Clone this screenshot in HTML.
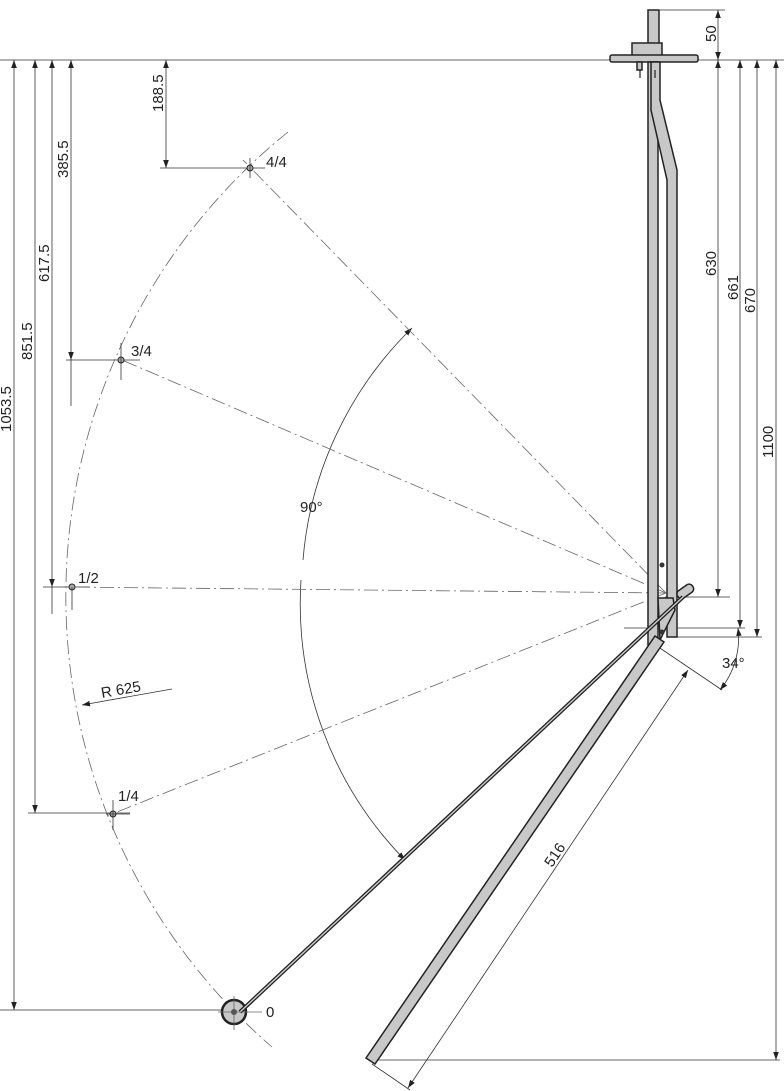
<!DOCTYPE html>
<html><head><meta charset="utf-8"><style>
html,body{margin:0;padding:0;background:#fff;}
svg{display:block;}
text{font-family:"Liberation Sans",sans-serif;font-size:15px;fill:#222;}
</style></head><body>
<svg width="784" height="1091" viewBox="0 0 784 1091" xmlns="http://www.w3.org/2000/svg">
<defs>
<marker id="a" viewBox="0 0 10 10" refX="10" refY="5" markerWidth="8" markerHeight="8" orient="auto-start-reverse" markerUnits="userSpaceOnUse"><path d="M0,1.5 L10,5 L0,8.5 z" fill="#222"/></marker>
</defs>
<g stroke="#333" stroke-width="0.8" fill="none">
<line x1="0" y1="60" x2="784" y2="60"/>
<line x1="14" y1="60" x2="14" y2="1010" marker-start="url(#a)" marker-end="url(#a)"/>
<line x1="0" y1="1010" x2="240" y2="1010"/>
<line x1="35" y1="60" x2="35" y2="813" marker-start="url(#a)" marker-end="url(#a)"/>
<line x1="28" y1="813" x2="130" y2="813"/>
<line x1="52" y1="60" x2="52" y2="587" marker-start="url(#a)" marker-end="url(#a)"/>
<line x1="52" y1="587" x2="52" y2="614"/>
<line x1="43" y1="587" x2="90" y2="587"/>
<line x1="71" y1="60" x2="71" y2="360" marker-start="url(#a)" marker-end="url(#a)"/>
<line x1="71" y1="360" x2="71" y2="406"/>
<line x1="66" y1="360" x2="140" y2="360"/>
<line x1="166" y1="60" x2="166" y2="168" marker-start="url(#a)" marker-end="url(#a)"/>
<line x1="160" y1="168" x2="265" y2="168"/>
<line x1="660" y1="10" x2="725" y2="10"/>
<line x1="718" y1="10" x2="718" y2="60" marker-start="url(#a)" marker-end="url(#a)"/>
<line x1="718" y1="60" x2="718" y2="597" marker-start="url(#a)" marker-end="url(#a)"/>
<line x1="665" y1="597" x2="730" y2="597"/>
<line x1="740" y1="60" x2="740" y2="628" marker-start="url(#a)" marker-end="url(#a)"/>
<line x1="624" y1="628" x2="745" y2="628"/>
<line x1="757" y1="60" x2="757" y2="637" marker-start="url(#a)" marker-end="url(#a)"/>
<line x1="670" y1="637" x2="762" y2="637"/>
<line x1="776" y1="60" x2="776" y2="1060" marker-start="url(#a)" marker-end="url(#a)"/>
<line x1="372" y1="1060" x2="780" y2="1060"/>
<line x1="648" y1="640" x2="722" y2="690"/>
<line x1="372" y1="1064" x2="410" y2="1090"/>
<line x1="688" y1="670" x2="408" y2="1088" marker-start="url(#a)" marker-end="url(#a)"/>
<path d="M738,628 A82,82 0 0 1 720,690" marker-start="url(#a)" marker-end="url(#a)"/>
<path d="M303,560 A366,366 0 0 1 412,328" marker-end="url(#a)"/>
<path d="M301,580 A366,366 0 0 0 405,860" marker-end="url(#a)"/>
<line x1="172" y1="689" x2="82" y2="705" marker-end="url(#a)"/>
</g>
<g stroke="#666" stroke-width="0.8" fill="none" stroke-dasharray="14,4,2,4">
<path d="M288,132 A596,596 0 0 0 272,1047"/>
<line x1="666" y1="593" x2="243" y2="160"/>
<line x1="666" y1="593" x2="115" y2="357"/>
<line x1="666" y1="593" x2="65" y2="587"/>
<line x1="666" y1="593" x2="107" y2="816"/>
<line x1="655" y1="10" x2="655" y2="45"/>
</g>
<g stroke="#222" stroke-width="1" fill="#aaa">
<circle cx="250" cy="168" r="3"/><circle cx="121" cy="360" r="3"/><circle cx="72" cy="587" r="3"/><circle cx="113" cy="814" r="3"/>
</g>
<g stroke="#333" stroke-width="0.8">
<line x1="250" y1="158" x2="250" y2="178"/><line x1="121" y1="343" x2="121" y2="380"/><line x1="72" y1="587" x2="72" y2="610"/><line x1="113" y1="800" x2="113" y2="830"/>
<line x1="106" y1="814" x2="130" y2="814"/>
</g>
<g stroke="#222" stroke-width="1.5" fill="#c8c8c8">
<rect x="648" y="10" width="11" height="36"/>
<rect x="632" y="43" width="30" height="13"/>
<rect x="610" y="55" width="88" height="7" rx="2"/>
<rect x="637" y="62" width="5" height="8"/><rect x="652" y="62" width="5" height="8"/>
<path d="M648,62 L658,62 L658,640 L648,655 Z"/>
<path d="M651,62 L660,62 L660,100 L677,170 L677,637 L667,637 L667,180 L651,110 Z"/>
<path d="M658,598 L673,598 L675,610 L660,640 Z"/>
<path d="M655,636 L664,642 L375,1064 L366,1058 Z"/>
<rect x="676" y="587" width="18" height="9" rx="4" transform="rotate(-35 685 591)"/>
<circle cx="234" cy="1012" r="12" stroke-width="2.5"/>
</g>
<g stroke="#222" fill="none">
<line x1="683" y1="597" x2="240" y2="1012" stroke-width="4"/>
<line x1="683" y1="597" x2="240" y2="1012" stroke="#ccc" stroke-width="1.4"/>
<line x1="640" y1="70" x2="640" y2="78" stroke-width="1.2"/><line x1="655" y1="70" x2="655" y2="78" stroke-width="1.2"/>
<line x1="218" y1="1012" x2="262" y2="1012" stroke-width="0.8" stroke="#666"/>
<line x1="234" y1="996" x2="234" y2="1030" stroke-width="0.8" stroke="#666"/>
</g>
<circle cx="662" cy="565" r="2.5" fill="#333"/><circle cx="662" cy="632" r="2.5" fill="#333"/>
<circle cx="234" cy="1012" r="3" fill="#555"/>
<text x="266" y="167">4/4</text>
<text x="131" y="356">3/4</text>
<text x="78" y="583">1/2</text>
<text x="118" y="801">1/4</text>
<text x="266" y="1017">0</text>
<text x="300" y="512">90°</text>
<text x="722" y="668">34°</text>
<text transform="translate(102,698) rotate(-10)">R 625</text>
<text transform="translate(11,432) rotate(-90)">1053.5</text>
<text transform="translate(32,360) rotate(-90)">851.5</text>
<text transform="translate(49,282) rotate(-90)">617.5</text>
<text transform="translate(68,178) rotate(-90)">385.5</text>
<text transform="translate(163,112) rotate(-90)">188.5</text>
<text transform="translate(716,42) rotate(-90)">50</text>
<text transform="translate(716,276) rotate(-90)">630</text>
<text transform="translate(738,300) rotate(-90)">661</text>
<text transform="translate(755,313) rotate(-90)">670</text>
<text transform="translate(773,458) rotate(-90)">1100</text>
<text transform="translate(552,868) rotate(-56)">516</text>
</svg>
</body></html>
